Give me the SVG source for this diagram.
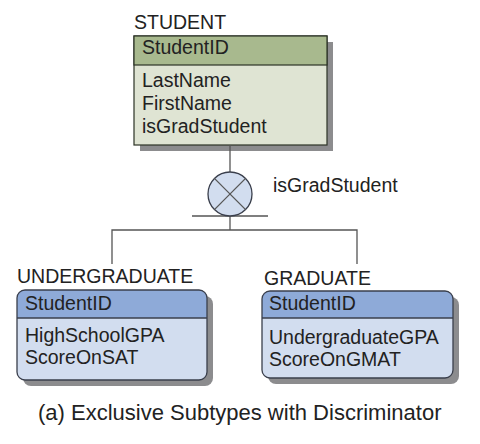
<svg xmlns="http://www.w3.org/2000/svg" width="480" height="444" viewBox="0 0 480 444">
<style>
text{font-family:"Liberation Sans",Arial,sans-serif;font-size:19.5px;fill:#222}
.shadow{fill:#8c8c8e}
.gh{fill:#a8b98e;stroke:#2c3326;stroke-width:1.2}
.gb{fill:#dfe4d3;stroke:#2c3326;stroke-width:1.2}
.bh{fill:#8eaad8}
.bb{fill:#d2ddef}
.bo{fill:none;stroke:#3a3f4c;stroke-width:1.3}
.ln{fill:none;stroke:#555;stroke-width:1.3}
</style>
<rect width="480" height="444" fill="#fff"/>
<g id="student">
<text x="134" y="29">STUDENT</text>
<rect class="shadow" x="140" y="42" width="193" height="109"/>
<rect class="gb" x="134" y="36" width="193" height="109"/>
<rect class="gh" x="134" y="36" width="193" height="29"/>
<text x="142" y="54">StudentID</text>
<text x="142" y="87">LastName</text>
<text x="142" y="110">FirstName</text>
<text x="142" y="133">isGradStudent</text>
</g>
<g id="connectors">
<line class="ln" x1="230" y1="145" x2="230" y2="172"/>
<line class="ln" x1="192" y1="216" x2="268" y2="216"/>
<line class="ln" x1="230" y1="216" x2="230" y2="230"/>
<polyline class="ln" points="112,264 112,230 357,230 357,264"/>
</g>
<g id="discriminator">
<circle cx="230" cy="194" r="22" fill="#d2ddef" stroke="#3a3f4c" stroke-width="1.3"/>
<line class="ln" x1="214.4" y1="178.4" x2="245.6" y2="209.6" stroke="#3a3f4c"/>
<line class="ln" x1="245.6" y1="178.4" x2="214.4" y2="209.6" stroke="#3a3f4c"/>
<text x="273" y="192">isGradStudent</text>
</g>
<g id="undergraduate">
<text x="17" y="283">UNDERGRADUATE</text>
<rect class="shadow" x="23" y="296" width="190" height="90" rx="8"/>
<path class="bb" d="M17,318 H207 V372 a8,8 0 0 1 -8,8 H25 a8,8 0 0 1 -8,-8 Z"/>
<path class="bh" d="M17,318 V298 a8,8 0 0 1 8,-8 H199 a8,8 0 0 1 8,8 V318 Z"/>
<rect class="bo" x="17" y="290" width="190" height="90" rx="8"/>
<line class="bo" x1="17" y1="318" x2="207" y2="318"/>
<text x="25" y="310">StudentID</text>
<text x="25" y="342">HighSchoolGPA</text>
<text x="25" y="364">ScoreOnSAT</text>
</g>
<g id="graduate">
<text x="264" y="285">GRADUATE</text>
<rect class="shadow" x="268" y="297" width="191" height="87" rx="8"/>
<path class="bb" d="M262,318 H453 V370 a8,8 0 0 1 -8,8 H270 a8,8 0 0 1 -8,-8 Z"/>
<path class="bh" d="M262,318 V299 a8,8 0 0 1 8,-8 H445 a8,8 0 0 1 8,8 V318 Z"/>
<rect class="bo" x="262" y="291" width="191" height="87" rx="8"/>
<line class="bo" x1="262" y1="318" x2="453" y2="318"/>
<text x="269" y="310">StudentID</text>
<text x="269" y="344">UndergraduateGPA</text>
<text x="269" y="366">ScoreOnGMAT</text>
</g>
<text x="38" y="420" style="font-size:22px">(a) Exclusive Subtypes with Discriminator</text>
</svg>
